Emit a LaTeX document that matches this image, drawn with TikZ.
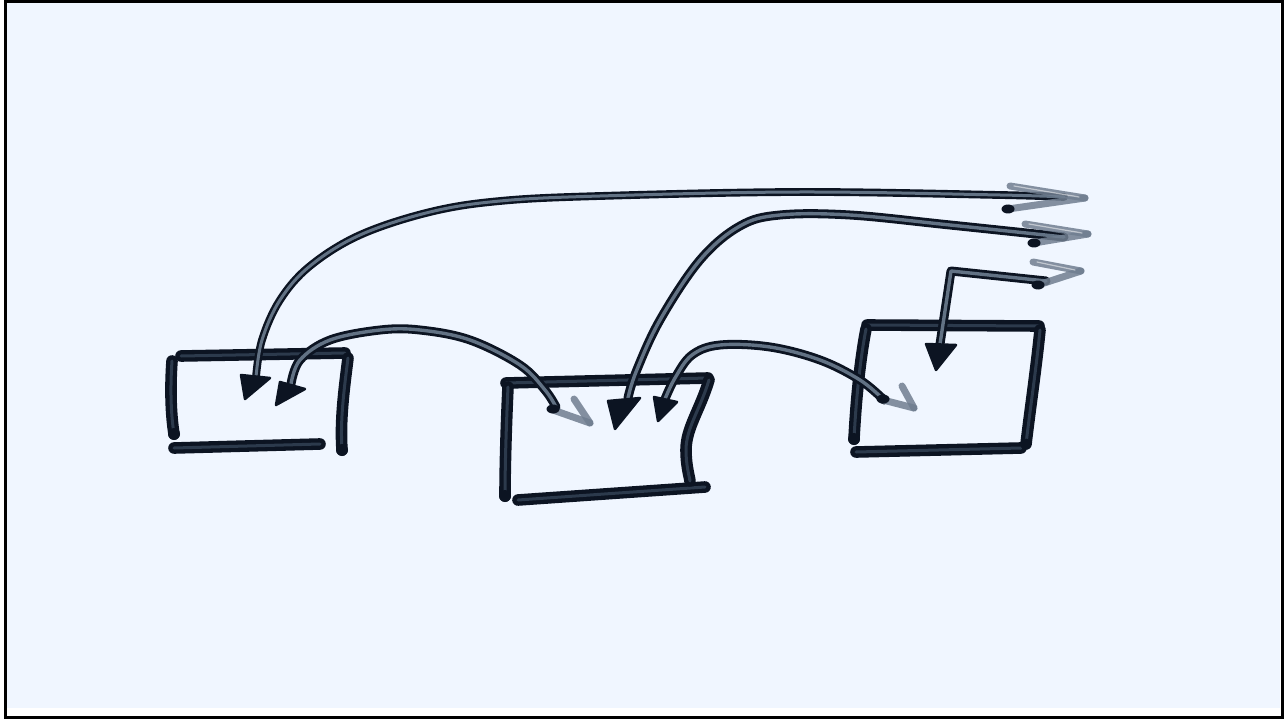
\documentclass[tikz,border=0pt]{standalone}
\usetikzlibrary{calc}
\definecolor{paper}{RGB}{240,246,255}
\definecolor{ink}{RGB}{12,20,34}
\definecolor{brushmid}{RGB}{98,114,132}
\definecolor{boxmid}{RGB}{44,58,76}
\definecolor{feather}{RGB}{112,126,144}
\tikzset{
  boxline/.style={draw=ink, line width=4.3pt, double=boxmid, double distance=3pt, line cap=round, line join=round},
  brush/.style={draw=ink, line width=2.8pt, double=brushmid, double distance=3.4pt, line cap=round, line join=round},
  headfill/.style={fill=ink, draw=ink, line width=2.5pt, line join=round},
  featherline/.style={draw=feather, line width=7pt, line cap=round, opacity=0.85},
  featherin/.style={draw=white, line width=1.2pt, line cap=round, opacity=0.5},
  inkdot/.style={fill=ink, draw=none},
}
\begin{document}
\begin{tikzpicture}[x=1pt,y=-1pt]
\useasboundingbox (0,0) rectangle (1284,719);
% frame and paper
\fill[white] (0,0) rectangle (1284,719);
\fill[paper] (6,3) rectangle (1280,708);
\draw[black, line width=3pt] (5,1.5) rectangle (1282,717.5);

% ---------- boxes ----------
% box 1
\coordinate (b1tl) at (181,356); \coordinate (b1tr) at (345,353);
\coordinate (b1lt) at (172,361); \coordinate (b1lb) at (174,434);
\coordinate (b1bl) at (174,448); \coordinate (b1br) at (320,444);
\coordinate (b1rt) at (348,358); \coordinate (b1rb) at (342,450);
\draw[boxline] (b1tl) -- (b1tr);
\draw[boxline] (b1lt) .. controls (170,390) and (171,415) .. (b1lb);
\draw[boxline] (b1bl) -- (b1br);
\draw[boxline] (b1rt) .. controls (344,390) and (340,420) .. (b1rb);
\fill[ink] (b1lb) circle (6pt);
\fill[ink] (b1rb) circle (6pt);
% box 2
\coordinate (b2tl) at (506,383); \coordinate (b2tr) at (708,378);
\coordinate (b2lt) at (508,387); \coordinate (b2lb) at (505,496);
\coordinate (b2bl) at (518,500); \coordinate (b2br) at (705,487);
\coordinate (b2rt) at (709,380); \coordinate (b2rb) at (690,481);
\draw[boxline] (b2tl) -- (b2tr);
\draw[boxline] (b2lt) .. controls (506,430) and (505,470) .. (b2lb);
\draw[boxline] (b2bl) -- (b2br);
\draw[boxline] (b2rt) .. controls (700,410) and (686,428) .. (686,450)
                      .. controls (686,465) and (689,475) .. (b2rb);
\fill[ink] (b2lb) circle (6pt);
% box 3
\coordinate (b3tl) at (867,325); \coordinate (b3tr) at (1039,326);
\coordinate (b3lt) at (866,329); \coordinate (b3lb) at (854,439);
\coordinate (b3bl) at (856,452); \coordinate (b3br) at (1021,448);
\coordinate (b3rt) at (1040,330); \coordinate (b3rb) at (1026,444);
\draw[boxline] (b3tl) -- (b3tr);
\draw[boxline] (b3lt) .. controls (860,360) and (856,400) .. (b3lb);
\draw[boxline] (b3bl) -- (b3br);
\draw[boxline] (b3rt) .. controls (1036,370) and (1030,410) .. (b3rb);
\fill[ink] (b3lb) circle (6pt);
\fill[ink] (b3rb) circle (5.5pt);

% ---------- arrows ----------
% A1: box 1 -> far right (top)
\coordinate (a1s) at (256,377); \coordinate (a1e) at (1064,197);
\draw[brush, line width=2.4pt, double distance=3pt] plot[smooth, tension=0.6] coordinates {(a1s) (262,340) (280,300) (310,266) (360,235) (430,212) (500,201) (600,196) (800,192) (1000,195) (a1e)};
% A2: box 1 -> box 2
\coordinate (a2s) at (291,384); \coordinate (a2e) at (556,407);
\draw[brush] plot[smooth, tension=0.6] coordinates {(a2s) (300,360) (330,340) (380,330) (420,330) (470,340) (520,365) (545,390) (a2e)};
% A3: box 2 -> far right (middle)
\coordinate (a3s) at (628,398); \coordinate (a3e) at (1064,237);
\draw[brush] plot[smooth, tension=0.6] coordinates {(a3s) (636,372) (660,320) (700,260) (740,226) (780,215) (850,215) (950,225) (a3e)};
% A4: box 2 -> box 3
\coordinate (a4s) at (665,399); \coordinate (a4e) at (884,400);
\draw[brush] plot[smooth, tension=0.6] coordinates {(a4s) (675,378) (692,355) (720,345) (770,347) (820,360) (860,380) (a4e)};
% A5: box 3 -> far right (bottom)
\coordinate (a5s) at (940,344); \coordinate (a5c) at (951,271); \coordinate (a5e) at (1046,281);
\draw[brush] (a5s) -- (a5c) -- (a5e);

% ---------- black arrowheads ----------
\filldraw[headfill] (241,375) -- (270,378) -- (245,399) -- cycle;
\filldraw[headfill] (280,382) -- (305,389) -- (276,405) -- cycle;
\filldraw[headfill] (608,401) -- (640,398) -- (615,429) -- cycle;
\filldraw[headfill] (654,397) -- (677,402) -- (658,421) -- cycle;
\filldraw[headfill] (926,344) -- (956,345) -- (936,370) -- cycle;

% ---------- grey feathered heads ----------
% A1 end
\coordinate (c1t) at (1085,198);
\draw[featherline] (1010,186) -- (c1t);
\draw[featherline] (1008,209) -- (c1t);
\draw[featherin] (1014,186) -- (1079,197);
\fill[inkdot] (1008,209) ellipse (6.5pt and 4.5pt);
% A3 end
\coordinate (c3t) at (1088,234);
\draw[featherline] (1025,224) -- (c3t);
\draw[featherline] (1034,243) -- (c3t);
\draw[featherin] (1029,224) -- (1082,233);
\fill[inkdot] (1034,243) ellipse (6.5pt and 4.5pt);
% A5 end
\coordinate (c5t) at (1081,271);
\draw[featherline] (1033,262) -- (c5t);
\draw[featherline] (1038,285) -- (c5t);
\draw[featherin] (1037,262) -- (1075,270);
\fill[inkdot] (1038,285) ellipse (6.5pt and 4.5pt);
% A2 end
\coordinate (c2t) at (590,423);
\draw[featherline] (574,399) -- (c2t);
\draw[featherline] (553,410) -- (c2t);
\fill[inkdot] (553,409) ellipse (6.5pt and 4.5pt);
% A4 end
\coordinate (c4t) at (914,408);
\draw[featherline] (902,386) -- (c4t);
\draw[featherline] (883,400) -- (c4t);
\fill[inkdot] (883,399) ellipse (6.5pt and 4.5pt);
\end{tikzpicture}
\end{document}
